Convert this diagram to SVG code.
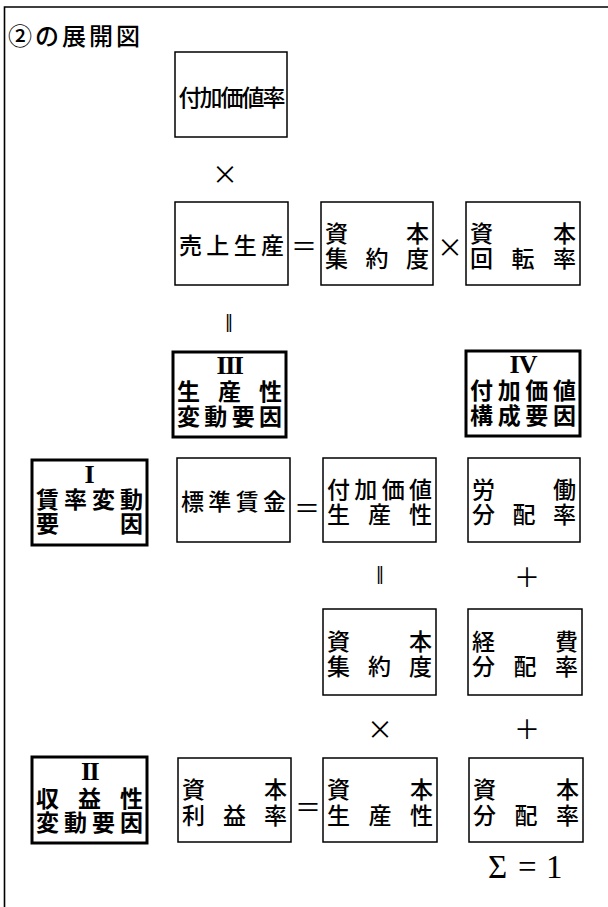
<svg xmlns="http://www.w3.org/2000/svg" width="608" height="907" viewBox="0 0 608 907">
<style>
.bg{fill:#fff}
.frame{fill:none;stroke:#000;stroke-width:1.6}
.box{fill:#fff;stroke:#000;stroke-width:1.5}
.tbox{fill:#fff;stroke:#000;stroke-width:3}
.jp{font-family:'Noto Sans CJK JP',sans-serif;font-size:23px;font-weight:500;fill:#000;text-anchor:middle;dominant-baseline:central}
.jb{font-family:'Noto Sans CJK JP',sans-serif;font-size:23px;font-weight:bold;fill:#000;text-anchor:middle;dominant-baseline:central}
.rn{font-family:'Liberation Serif',serif;font-size:26px;font-weight:bold}
.op{font-family:'Noto Sans CJK JP',sans-serif;font-size:26px;fill:#000;text-anchor:middle;dominant-baseline:central}
.par{font-family:'DejaVu Sans',sans-serif;font-size:17px;fill:#000;text-anchor:middle;dominant-baseline:central}
.title{font-family:'Noto Sans CJK JP',sans-serif;font-size:24px;font-weight:500;fill:#000;letter-spacing:3px}
.sig{font-family:'Liberation Serif',serif;font-size:33px;fill:#000}
</style>
<rect class="bg" x="0" y="0" width="608" height="907"/>
<path class="frame" d="M4.5,907 V7 H608"/>
<text class="title" x="8" y="45">②の展開図</text>

<g id="fukakachiritsu">
<rect class="box" x="175" y="52" width="112" height="85"/>
<text class="jp" font-size="22" x="190 211 232 253 274" y="96">付加価値率</text>
</g>

<g id="uriage">
<rect class="box" x="175" y="202" width="113" height="83"/>
<text class="jp" x="190.5 217.8 245.2 272.5" y="243.5">売上生産</text>
</g>
<g id="shihon-shuyaku1">
<rect class="box" x="321" y="202" width="112" height="83"/>
<text class="jp"><tspan x="336.5 417.5" y="232">資本</tspan><tspan x="336.5 377 417.5" y="257">集約度</tspan></text>
</g>
<g id="shihon-kaiten">
<rect class="box" x="466" y="202" width="114" height="83"/>
<text class="jp"><tspan x="481.5 564.5" y="232">資本</tspan><tspan x="481.5 523 564.5" y="257">回転率</tspan></text>
</g>

<g id="factor3">
<rect class="tbox" x="173" y="352" width="113" height="85"/>
<text class="jb"><tspan class="rn" x="229.5" y="365" letter-spacing="-1.5">III</tspan><tspan x="188.5 229.5 270.5" y="390">生産性</tspan><tspan x="188.5 215.8 243.2 270.5" y="415">変動要因</tspan></text>
</g>
<g id="factor4">
<rect class="tbox" x="466" y="351" width="114" height="85"/>
<text class="jb"><tspan class="rn" x="523" y="364" letter-spacing="-1">IV</tspan><tspan x="481.5 509.2 536.8 564.5" y="389">付加価値</tspan><tspan x="481.5 509.2 536.8 564.5" y="414">構成要因</tspan></text>
</g>

<g id="factor1">
<rect class="tbox" x="32" y="460" width="115" height="85"/>
<text class="jb"><tspan class="rn" x="89.5" y="474">I</tspan><tspan x="47.5 75.5 103.5 131.5" y="498">賃率変動</tspan><tspan x="47.5 131.5" y="522">要因</tspan></text>
</g>
<g id="hyojun-chingin">
<rect class="box" x="177" y="458" width="113" height="84"/>
<text class="jp" x="192.5 219.8 247.2 274.5" y="500">標準賃金</text>
</g>
<g id="fukakachi-seisansei">
<rect class="box" x="323" y="458" width="113" height="84"/>
<text class="jp"><tspan x="338.5 365.8 393.2 420.5" y="488">付加価値</tspan><tspan x="338.5 379.5 420.5" y="513">生産性</tspan></text>
</g>
<g id="rodo-bunpai">
<rect class="box" x="468" y="458" width="112" height="84"/>
<text class="jp"><tspan x="483.5 564.5" y="488">労働</tspan><tspan x="483.5 524 564.5" y="513">分配率</tspan></text>
</g>

<g id="shihon-shuyaku2">
<rect class="box" x="323" y="609" width="113" height="86"/>
<text class="jp"><tspan x="338.5 420.5" y="640">資本</tspan><tspan x="338.5 379.5 420.5" y="665">集約度</tspan></text>
</g>
<g id="keihi-bunpai">
<rect class="box" x="468" y="609" width="114" height="86"/>
<text class="jp"><tspan x="483.5 566.5" y="640">経費</tspan><tspan x="483.5 525 566.5" y="665">分配率</tspan></text>
</g>

<g id="factor2">
<rect class="tbox" x="32" y="757" width="115" height="86"/>
<text class="jb"><tspan class="rn" x="89.5" y="771" letter-spacing="-1.5">II</tspan><tspan x="47.5 89.5 131.5" y="797">収益性</tspan><tspan x="47.5 75.5 103.5 131.5" y="821">変動要因</tspan></text>
</g>
<g id="shihon-rieki">
<rect class="box" x="178" y="758" width="113" height="84"/>
<text class="jp"><tspan x="193.5 275.5" y="788">資本</tspan><tspan x="193.5 234.5 275.5" y="814">利益率</tspan></text>
</g>
<g id="shihon-seisansei">
<rect class="box" x="323" y="758" width="114" height="84"/>
<text class="jp"><tspan x="338.5 421.5" y="788">資本</tspan><tspan x="338.5 380 421.5" y="814">生産性</tspan></text>
</g>
<g id="shihon-bunpai">
<rect class="box" x="469" y="758" width="114" height="84"/>
<text class="jp"><tspan x="484.5 567.5" y="788">資本</tspan><tspan x="484.5 526 567.5" y="814">分配率</tspan></text>
</g>

<g id="connectors">
<text class="op" x="225" y="172">×</text>
<text class="op" x="304" y="244">＝</text>
<text class="op" x="450" y="245">×</text>
<text class="par" x="229" y="322">‖</text>
<text class="op" x="307" y="506">＝</text>
<text class="par" x="380" y="574">‖</text>
<text class="op" x="527" y="575">＋</text>
<text class="op" x="380" y="727">×</text>
<text class="op" x="527" y="727">＋</text>
<text class="op" x="308" y="805">＝</text>
<text class="sig" x="488 518 546" y="878">Σ=1</text>
</g>
</svg>
